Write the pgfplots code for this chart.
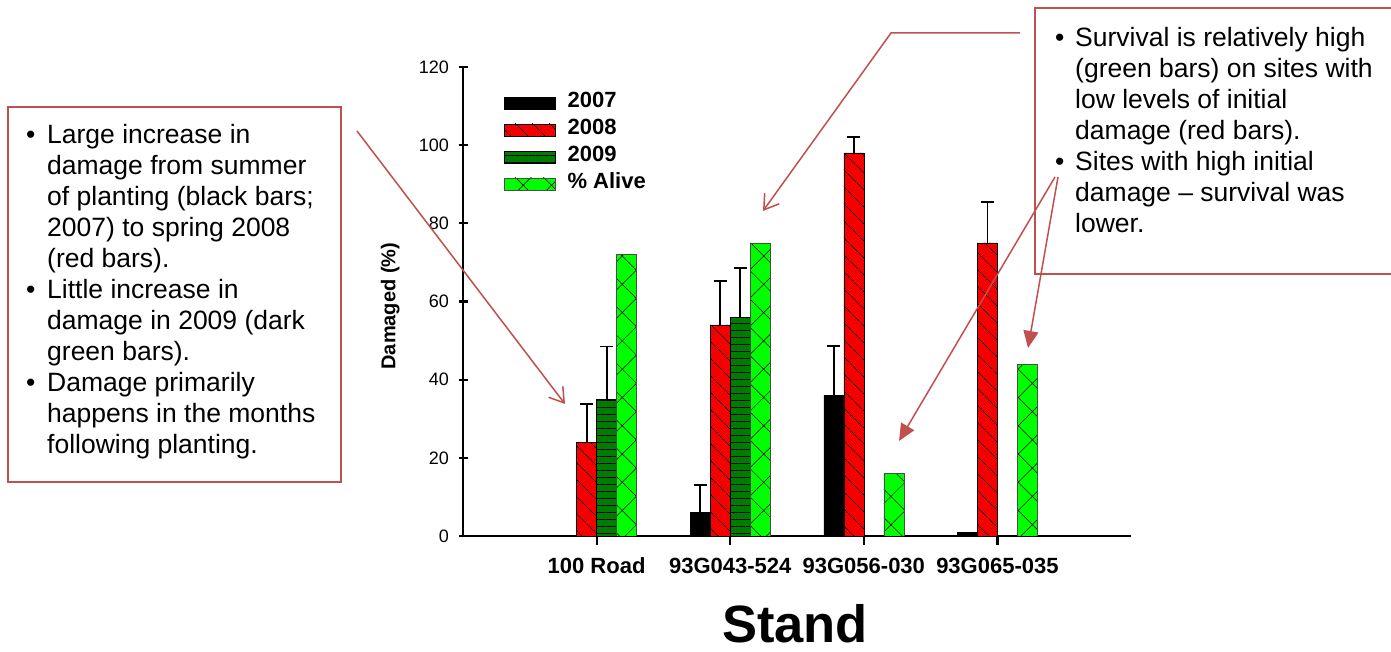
\documentclass[border=0pt]{standalone}
\usepackage{fontspec}
\setmainfont{Liberation Sans}
\usepackage{pgfplots}
\pgfplotsset{compat=1.18}
\usetikzlibrary{patterns.meta,arrows.meta}
\definecolor{annot}{RGB}{192,80,77}
\definecolor{dkgreen}{RGB}{0,125,0}
\definecolor{ltgreen}{RGB}{0,255,0}
\definecolor{barred}{RGB}{245,0,0}
\newcommand\ann{\fontsize{26.5}{31}\selectfont}
\pgfplotsset{
  mylegend/.style={legend image code/.code={\draw[##1] (0pt,-6pt) rectangle (51pt,6pt); \path (63pt,0pt);}},
}
\begin{document}
\begin{tikzpicture}
\useasboundingbox (0pt,0pt) rectangle (1391pt,652pt);
\begin{axis}[
  at={(463pt,116pt)}, anchor=south west,
  scale only axis, width=668pt, height=469pt,
  xmin=-1, xmax=4, ymin=0, ymax=120,
  axis lines*=left,
  axis line style={line width=1.5pt, black},
  ybar, bar width=20pt,
  xtick={0,1,2,3},
  xticklabels={100 Road, 93G043-524, 93G056-030, 93G065-035},
  ytick={0,20,...,120},
  tick align=center, major tick length=9pt,
  tick style={black, line width=2.2pt},
  xtick style={yshift=-4.5pt},
  /pgf/number format/assume math mode=true,
  yticklabel style={font=\fontsize{18}{20}\selectfont, xshift=-6pt},
  xticklabel style={font=\bfseries\fontsize{22}{26}\selectfont, yshift=-14pt},
  ylabel={Damaged (\%)},
  ylabel style={font=\bfseries\fontsize{20}{24}\selectfont, at={(axis description cs:-0.109,0.49)}, anchor=center},
  xlabel={Stand},
  xlabel style={font=\bfseries\fontsize{52.5}{60}\selectfont, at={(axis description cs:0.497,-0.188)}, anchor=center},
  legend style={at={(axis description cs:0.061,0.943)}, anchor=north west, draw=none, fill=none,
    font=\bfseries\fontsize{22}{26}\selectfont, inner sep=0pt, row sep=9pt,
    nodes={inner sep=0pt, text height=14pt, text depth=4pt}},
  legend cell align=left,
  error bars/error bar style={line width=1.8pt, black},
  error bars/error mark options={rotate=90, mark size=6.5pt, line width=1.8pt, black},
]
% 2007
\addplot[fill=black, draw=black, line width=0.6pt, bar shift=-30pt, mylegend,
  error bars/.cd, y dir=plus, y explicit]
  coordinates {(1,6) +- (0,7) (2,36) +- (0,12.7)};
\addlegendentry{2007}
\addplot[fill=black, draw=black, line width=0.6pt, bar shift=-30pt, forget plot]
  coordinates {(3,1)};
% 2008
\addplot[fill=barred, draw=black, line width=0.6pt, bar shift=-10pt, mylegend,
  postaction={pattern={Lines[angle=-45,distance=13pt,line width=0.6pt]}, pattern color=black},
  error bars/.cd, y dir=plus, y explicit]
  coordinates {(0,24) +- (0,9.7) (1,54) +- (0,11.3) (2,98) +- (0,4) (3,75) +- (0,10.5)};
\addlegendentry{2008}
% 2009
\addplot[fill=dkgreen, draw=black, line width=0.6pt, bar shift=10pt, mylegend,
  postaction={pattern={Lines[angle=0,distance=7pt,line width=0.5pt]}, pattern color=black},
  error bars/.cd, y dir=plus, y explicit]
  coordinates {(0,35) +- (0,13.5) (1,56) +- (0,12.6)};
\addlegendentry{2009}
% % Alive
\addplot[fill=ltgreen, draw=black!70, line width=0.6pt, bar shift=30pt, mylegend,
  postaction={pattern={Hatch[angle=45,distance=20pt,line width=0.5pt]}, pattern color=black}]
  coordinates {(0,72) (1,75) (2,16) (3,44)};
\addlegendentry{\% Alive}
\end{axis}

% annotation boxes
\draw[annot, line width=2pt] (8pt,545pt) rectangle (341pt,170pt);
\draw[annot, line width=2pt] (1035pt,644pt) rectangle (1400pt,378pt);

% left box text
\foreach \yy/\tt in {508/Large increase in, 477/damage from summer, 446/{of planting (black bars;}, 415/{2007) to spring 2008}, 384/{(red bars).}, 353/Little increase in, 322/{damage in 2009 (dark}, 291/{green bars).}, 260/Damage primarily, 229/happens in the months, 198/following planting.}
  \node[anchor=base west, inner sep=0pt, font=\ann] at (47pt,\yy pt) {\tt};
\foreach \yy in {508,353,260}
  \node[anchor=base west, inner sep=0pt, font=\ann] at (26pt,\yy pt) {•};

% right box text
\foreach \yy/\tt in {605/Survival is relatively high, 574/{(green bars) on sites with}, 543/low levels of initial, 512/{damage (red bars).}, 481/Sites with high initial, 450/{damage – survival was}, 419/lower.}
  \node[anchor=base west, inner sep=0pt, font=\ann] at (1075pt,\yy pt) {\tt};
\foreach \yy in {605,481}
  \node[anchor=base west, inner sep=0pt, font=\ann] at (1055pt,\yy pt) {•};

% arrows
\draw[annot, line width=1.5pt, -{Straight Barb[length=14pt,width=18pt]}] (357pt,521pt) -- (565pt,248pt);
\draw[annot, line width=1.5pt, -{Straight Barb[length=14pt,width=18pt]}] (1020pt,619pt) -- (891pt,619pt) -- (763pt,441pt);
\draw[annot, line width=1.5pt, -{Triangle[length=17pt,width=15pt]}] (1055pt,475pt) -- (899pt,211pt);
\draw[annot, line width=1.5pt, -{Triangle[length=17pt,width=15pt]}] (1058pt,475pt) -- (1028pt,304pt);
\end{tikzpicture}
\end{document}
